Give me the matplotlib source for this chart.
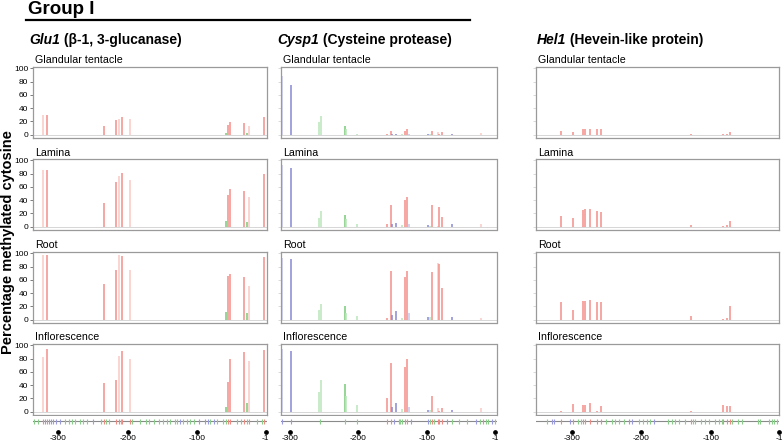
import matplotlib
matplotlib.use("Agg")
import matplotlib.pyplot as plt

plt.rcParams['font.family'] = ['Liberation Sans', 'DejaVu Sans']

# ---------------- data ----------------
tissues = ["Glandular tentacle", "Lamina", "Root", "Inflorescence"]
xtick_vals = [-300, -200, -100, -1]
xtick_labels = ["-300", "-200", "-100", "-1"]

# Glu1
glu1_pos = [-322, -316, -234, -217, -213, -208, -197, -58, -55, -52, -32, -28, -25, -3]
glu1_ctx = ["CGl", "CG", "CG", "CG", "CGl", "CG", "CGl", "CHH", "CG", "CG", "CG", "CHH", "CGl", "CG"]
glu1_gland = [30, 30, 13, 22, 24, 26, 23, 2, 14, 19, 17, 2, 13, 26]
glu1_lamina = [85, 85, 35, 67, 76, 81, 70, 8, 47, 57, 54, 7, 44, 80]
glu1_root = [97, 97, 54, 75, 97, 96, 75, 11, 66, 69, 64, 10, 51, 95]
glu1_infl = [82, 95, 43, 47, 84, 92, 80, 7, 45, 79, 90, 13, 77, 93]
glu1_strip_cg = [-322, -316, -234, -217, -213, -208, -197, -55, -52, -32, -25, -3]
glu1_strip_chg = [-319, -313, -310, -307, -303, -297, -250, -124, -97, -88, -85, -75]
glu1_strip_chh = [-335, -330, -291, -284, -281, -276, -269, -264, -258, -239, -231, -227,
                  -209, -194, -182, -173, -170, -162, -155, -149, -144, -139, -132, -129,
                  -120, -115, -110, -105, -81, -71, -63, -58, -43, -37, -28, -13, -6]

# Cysp1
cysp1_pos = [-311, -298, -257, -255, -219, -218, -202, -158, -153, -152, -145, -137,
             -133, -129, -126, -99, -96, -93, -85, -83, -79, -64, -22]
cysp1_ctx = ["CHGl", "CHG", "CHHl", "CHHl", "CHH", "CHHl", "CHHl", "CG", "CG", "CHG", "CHG", "CHHl",
             "CG", "CG", "CHGl", "CHG", "CHHl", "CG", "CGl", "CG", "CG", "CHG", "CGl"]
cysp1_gland = [88, 75, 19, 28, 13, 8, 1, 1, 5.5, 0.5, 1.5, 0.5,
               5.5, 8.4, 1, 0.5, 0.5, 5, 4.5, 0.5, 4.5, 1, 2]
cysp1_lamina = [93, 89, 13, 24, 17, 11, 3.5, 3.5, 33, 3.5, 6, 2,
                40, 44.5, 4.5, 2.5, 1, 32, 1, 29, 15, 3.5, 3.5]
cysp1_root = [93, 92, 15, 24, 20, 10, 5, 3, 73, 7, 12.4, 2.5,
              65, 74, 10, 4, 4, 72, 85, 84, 47.5, 4, 2]
cysp1_infl = [94, 92, 30, 48.5, 41.6, 24, 10, 21, 74, 7.4, 13, 3.5,
              68, 79, 6.4, 2.5, 3, 23, 5, 1, 5, 2.5, 5]
cysp1_strip_cg = [-158, -153, -133, -129, -93, -85, -83, -79, -19]
cysp1_strip_chg = [-311, -298, -148, -123, -99, -71, -29, -6]
cysp1_strip_chh = [-256, -219, -202, -141, -139, -137, -96, -91, -64, -54, -42, -23, -15, -12, -1]

# Hel1
hel1_pos = [-317, -299, -284, -281, -274, -265, -258, -129, -82, -77, -72]
hel1_ctx = ["CG"] * 11
hel1_gland = [6, 4, 8.4, 8.4, 8.4, 8, 8, 0.5, 0.5, 1, 4.5]
hel1_lamina = [16, 12.4, 25, 27, 27, 23, 22, 2.5, 0.5, 2.5, 8]
hel1_root = [26, 15, 28, 28, 30, 27, 27, 5.4, 0.5, 2, 21]
hel1_infl = [0.5, 12, 10, 10, 13, 0.5, 8.4, 0.5, 10.4, 9, 9]
hel1_strip_cg = [-317, -299, -284, -281, -274, -265, -258, -129, -82, -77, -72]
hel1_strip_chg = [-329, -326, -304, -218, -214, -182]
hel1_strip_chh = [-337, -292, -287, -252, -243, -238, -232, -226, -204, -198, -192, -187,
                  -161, -156, -151, -146, -137, -126, -122, -114, -108, -103, -94, -88,
                  -84, -69, -60, -55, -32, -28, -16, -12, -8, -4]

# ---------------- style ----------------
colors = {"CG": "#f4948d", "CGl": "#f9cbc6", "CHG": "#8c8cd6", "CHGl": "#cacaee",
          "CHH": "#7fcc7f", "CHHl": "#bde6bd"}
strip_colors = {"CG": "#ee8a84", "CHG": "#9a9ade", "CHH": "#8acc8a"}

genes = [
    dict(title_it="Glu1", title_rest=" (β-1, 3-glucanase)", pos=glu1_pos, ctx=glu1_ctx,
         vals=[glu1_gland, glu1_lamina, glu1_root, glu1_infl],
         strip=(glu1_strip_cg, glu1_strip_chg, glu1_strip_chh),
         left=33, right=266.5, xlim=(-336.5, 0.0), tx=29.5),
    dict(title_it="Cysp1", title_rest=" (Cysteine protease)", pos=cysp1_pos, ctx=cysp1_ctx,
         vals=[cysp1_gland, cysp1_lamina, cysp1_root, cysp1_infl],
         strip=(cysp1_strip_cg, cysp1_strip_chg, cysp1_strip_chh),
         left=281, right=496.5, xlim=(-312.5, 0.5), tx=277),
    dict(title_it="Hel1", title_rest=" (Hevein-like protein)", pos=hel1_pos, ctx=hel1_ctx,
         vals=[hel1_gland, hel1_lamina, hel1_root, hel1_infl],
         strip=(hel1_strip_cg, hel1_strip_chg, hel1_strip_chh),
         left=536, right=779.5, xlim=(-352.5, -0.5), tx=537),
]

W, H = 783, 442
fig = plt.figure(figsize=(W / 100, H / 100), dpi=100)


def box(l, t, w, h):
    return [l / W, 1 - (t + h) / H, w / W, h / H]


row_tops = [67, 159, 252, 344]
row_h = 71

for gi, g in enumerate(genes):
    width = g["right"] - g["left"]
    for ri, tissue in enumerate(tissues):
        ax = fig.add_axes(box(g["left"], row_tops[ri], width, row_h))
        ax.axhline(0, color="#d0d0d0", lw=0.6, zorder=1)
        ax.vlines(g["pos"], 0, g["vals"][ri], colors=[colors[c] for c in g["ctx"]],
                  lw=1.15, zorder=2)
        ax.set_xlim(*g["xlim"])
        ax.set_ylim(-5, 102)
        ax.set_xticks([])
        ax.set_yticks([0, 20, 40, 60, 80, 100])
        if gi == 0:
            ax.tick_params(axis="y", labelsize=6, length=2.5, width=0.6, pad=1,
                           color="#666666")
        else:
            ax.tick_params(axis="y", labelleft=False, length=2, width=0.5, color="#cccccc")
        for s in ax.spines.values():
            s.set_color("#9a9a9a")
            s.set_linewidth(0.9)
        fig.text((g["left"] + 2) / W, 1 - (row_tops[ri] - 3.5) / H, tissue,
                 fontsize=7.7, ha="left", va="baseline")

    # bottom strip
    sax = fig.add_axes(box(g["left"], 416, width, 17))
    sax.set_xlim(*g["xlim"])
    sax.set_ylim(-12, 5)
    sax.axhline(0, color="#8a8a8a", lw=0.8, zorder=1)
    cg, chg, chh = g["strip"]
    sax.vlines(chh, -2.5, 2.5, colors=strip_colors["CHH"], lw=0.8, zorder=2)
    sax.vlines(chg, -2.5, 2.5, colors=strip_colors["CHG"], lw=0.8, zorder=2)
    sax.vlines(cg, -2.5, 2.5, colors=strip_colors["CG"], lw=0.8, zorder=3)
    sax.plot(xtick_vals, [-10.5] * len(xtick_vals), "o", color="black", ms=2.4,
             clip_on=False, zorder=4)
    sax.set_xticks(xtick_vals)
    sax.set_xticklabels(xtick_labels)
    sax.tick_params(axis="x", length=0, labelsize=6, pad=1.3)
    sax.set_yticks([])
    for s in sax.spines.values():
        s.set_visible(False)

    # column title (italic gene name + bold rest)
    t1 = fig.text(g["tx"] / W, 1 - 40 / H, g["title_it"], fontsize=10,
                  fontweight="bold", fontstyle="italic", ha="left", va="center")
    fig.canvas.draw()
    bb = t1.get_window_extent(renderer=fig.canvas.get_renderer())
    fig.text(bb.x1 / W, 1 - 40 / H, g["title_rest"], fontsize=10,
             fontweight="bold", ha="left", va="center")

# main title and underline
fig.text(28 / W, 1 - 10 / H, "Group I", fontsize=13.5, fontweight="bold",
         ha="left", va="center")
fig.add_artist(plt.Line2D([26 / W, 470 / W], [1 - 19.5 / H, 1 - 19.5 / H],
                          color="black", lw=1.6))

# y label
fig.text(8 / W, 1 - 242 / H, "Percentage methylated cytosine", fontsize=10.5,
         fontweight="bold", rotation=90, ha="center", va="center")

fig.savefig("out.png", dpi=100)
